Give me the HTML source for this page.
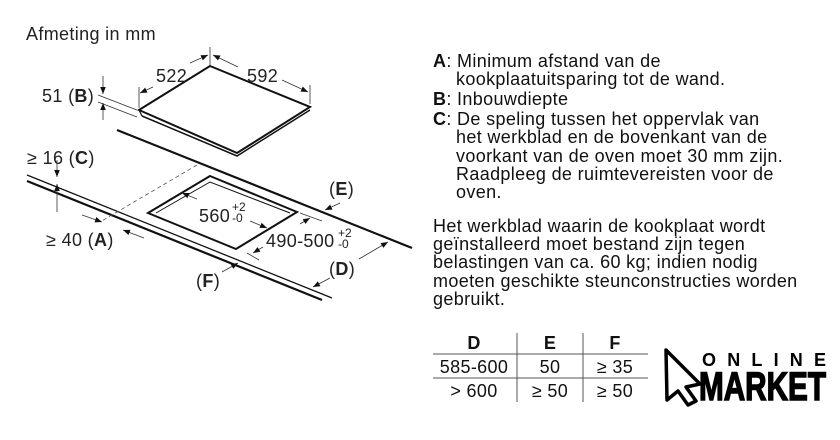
<!DOCTYPE html>
<html><head><meta charset="utf-8"><style>
html,body{margin:0;padding:0;background:#fff;}
svg{display:block;font-family:"Liberation Sans",Arial,sans-serif;}
.t{font-size:18px;letter-spacing:0.35px;}
</style></head><body>
<svg width="840" height="440" viewBox="0 0 840 440" xmlns="http://www.w3.org/2000/svg">
<defs>
<marker id="ar" viewBox="0 0 10 10" refX="10" refY="5" markerWidth="7" markerHeight="7" orient="auto-start-reverse" markerUnits="userSpaceOnUse"><path d="M0,1 L10,5 L0,9 z" fill="#111"/></marker>
</defs>
<rect width="840" height="440" fill="#fff"/>
<text x="26" y="40" class="t" fill="#222">Afmeting in mm</text>

<polygon points="210,66 310,107 237,153 139,110" fill="#fff" stroke="#111" stroke-width="2"/>
<polyline points="142,116 237,156 310,110" fill="none" stroke="#111" stroke-width="1.5"/>
<line x1="139" y1="110" x2="142" y2="116" stroke="#111" stroke-width="1.2"/>
<line x1="139" y1="87" x2="139" y2="108" stroke="#333" stroke-width="0.8"/>
<line x1="210" y1="47" x2="210" y2="65" stroke="#333" stroke-width="0.8"/>
<line x1="310" y1="85" x2="310" y2="104" stroke="#333" stroke-width="0.8"/>
<line x1="140" y1="93" x2="153" y2="87" stroke="#333" stroke-width="0.8" marker-start="url(#ar)"/>
<line x1="190" y1="63" x2="208" y2="55" stroke="#333" stroke-width="0.8" marker-end="url(#ar)"/>
<line x1="213" y1="55" x2="238" y2="67" stroke="#333" stroke-width="0.8" marker-start="url(#ar)"/>
<line x1="282" y1="80" x2="308" y2="92" stroke="#333" stroke-width="0.8" marker-end="url(#ar)"/>
<text x="156" y="82" class="t" fill="#222">522</text>
<text x="247" y="82" class="t" fill="#222">592</text>
<text x="42" y="102" class="t" fill="#222">51 (<tspan font-weight="bold">B</tspan>)</text>
<line x1="98" y1="95" x2="137" y2="110" stroke="#333" stroke-width="0.8"/>
<line x1="98" y1="102" x2="137" y2="117" stroke="#333" stroke-width="0.8"/>
<line x1="103" y1="76" x2="103" y2="94" stroke="#333" stroke-width="0.8" marker-end="url(#ar)"/>
<line x1="103" y1="120" x2="103" y2="103" stroke="#333" stroke-width="0.8" marker-end="url(#ar)"/>
<line x1="117" y1="130" x2="412" y2="248" stroke="#111" stroke-width="2.2"/>
<line x1="27" y1="175" x2="332" y2="298" stroke="#111" stroke-width="1.3"/>
<line x1="27" y1="181" x2="322" y2="300" stroke="#111" stroke-width="2.2"/>
<line x1="197" y1="165" x2="100" y2="222" stroke="#555" stroke-width="0.8" stroke-dasharray="4,3"/>
<polygon points="210,176 297,212 236,249 148,213" fill="none" stroke="#111" stroke-width="2"/>
<polyline points="156,213 210,182 290,213" fill="none" stroke="#111" stroke-width="1"/>
<line x1="182" y1="193" x2="197" y2="199" stroke="#333" stroke-width="0.8" marker-start="url(#ar)"/>
<line x1="250" y1="221" x2="267" y2="228" stroke="#333" stroke-width="0.8" marker-end="url(#ar)"/>
<text x="199" y="222" class="t" fill="#222">560</text>
<text x="232" y="211" font-size="12" fill="#222">+2</text>
<text x="232" y="222" font-size="12" fill="#222">-0</text>
<line x1="300" y1="213" x2="322" y2="221" stroke="#333" stroke-width="0.8"/>
<line x1="247" y1="253" x2="259" y2="260" stroke="#333" stroke-width="0.8"/>
<line x1="300" y1="224" x2="310" y2="218" stroke="#333" stroke-width="0.8" marker-end="url(#ar)"/>
<line x1="263" y1="247" x2="253" y2="253" stroke="#333" stroke-width="0.8" marker-end="url(#ar)"/>
<text x="266" y="247" class="t" fill="#222">490-500</text>
<text x="338" y="237" font-size="12" fill="#222">+2</text>
<text x="338" y="248" font-size="12" fill="#222">-0</text>
<text x="329" y="195" class="t" fill="#222">(<tspan font-weight="bold">E</tspan>)</text>
<line x1="340" y1="203" x2="325" y2="210" stroke="#333" stroke-width="0.8" marker-end="url(#ar)"/>
<line x1="359" y1="259" x2="388" y2="242" stroke="#333" stroke-width="0.8" marker-end="url(#ar)"/>
<line x1="330" y1="278" x2="313" y2="287" stroke="#333" stroke-width="0.8" marker-end="url(#ar)"/>
<text x="329" y="275" class="t" fill="#222">(<tspan font-weight="bold">D</tspan>)</text>
<line x1="222" y1="272" x2="238" y2="263" stroke="#333" stroke-width="0.8" marker-end="url(#ar)"/>
<text x="196" y="287" class="t" fill="#222">(<tspan font-weight="bold">F</tspan>)</text>
<text x="27" y="164" class="t" fill="#222">≥ 16 (<tspan font-weight="bold">C</tspan>)</text>
<line x1="57" y1="160" x2="57" y2="177" stroke="#333" stroke-width="0.8" marker-end="url(#ar)"/>
<line x1="57" y1="212" x2="57" y2="184" stroke="#333" stroke-width="0.8" marker-end="url(#ar)"/>
<text x="46" y="246" class="t" fill="#222">≥ 40 (<tspan font-weight="bold">A</tspan>)</text>
<line x1="82" y1="215" x2="102" y2="222" stroke="#333" stroke-width="0.8" marker-end="url(#ar)"/>
<line x1="144" y1="238" x2="123" y2="230" stroke="#333" stroke-width="0.8" marker-end="url(#ar)"/>

<g class="t" fill="#111">
<text x="433" y="67"><tspan font-weight="bold">A</tspan>: Minimum afstand van de</text>
<text x="456" y="85">kookplaatuitsparing tot de wand.</text>
<text x="433" y="105"><tspan font-weight="bold">B</tspan>: Inbouwdiepte</text>
<text x="433" y="125"><tspan font-weight="bold">C</tspan>: De speling tussen het oppervlak van</text>
<text x="456" y="143">het werkblad en de bovenkant van de</text>
<text x="456" y="162">voorkant van de oven moet 30 mm zijn.</text>
<text x="456" y="180">Raadpleeg de ruimtevereisten voor de</text>
<text x="456" y="198">oven.</text>
<text x="433" y="232">Het werkblad waarin de kookplaat wordt</text>
<text x="433" y="250">geïnstalleerd moet bestand zijn tegen</text>
<text x="433" y="268">belastingen van ca. 60 kg; indien nodig</text>
<text x="433" y="287">moeten geschikte steunconstructies worden</text>
<text x="433" y="305">gebruikt.</text>
</g>
<g stroke="#555" stroke-width="1">
<line x1="433" y1="354" x2="648" y2="354"/>
<line x1="433" y1="378" x2="648" y2="378"/>
<line x1="517" y1="333" x2="517" y2="402"/>
<line x1="583" y1="333" x2="583" y2="402"/>
</g>
<g class="t" fill="#111" text-anchor="middle">
<text x="474" y="349" font-weight="bold">D</text>
<text x="550" y="349" font-weight="bold">E</text>
<text x="615" y="349" font-weight="bold">F</text>
<text x="474" y="373">585-600</text>
<text x="550" y="373">50</text>
<text x="615" y="373">≥ 35</text>
<text x="474" y="397">&gt; 600</text>
<text x="550" y="397">≥ 50</text>
<text x="615" y="397">≥ 50</text>
</g>
<path d="M666,350 L700,384 L686,387 L696,401 L688,405 L678,391 L667,400 Z" fill="none" stroke="#000" stroke-width="3.5" stroke-linejoin="round"/>
<text x="702" y="366" font-size="18" font-weight="bold" fill="#000" textLength="124" lengthAdjust="spacing">ONLINE</text>
<text x="699" y="400" font-size="40" font-weight="bold" fill="#000" textLength="127" lengthAdjust="spacingAndGlyphs" font-family="'Liberation Sans Narrow','Liberation Sans',sans-serif" stroke="#000" stroke-width="1.5">MARKET</text>
</svg>
</body></html>
